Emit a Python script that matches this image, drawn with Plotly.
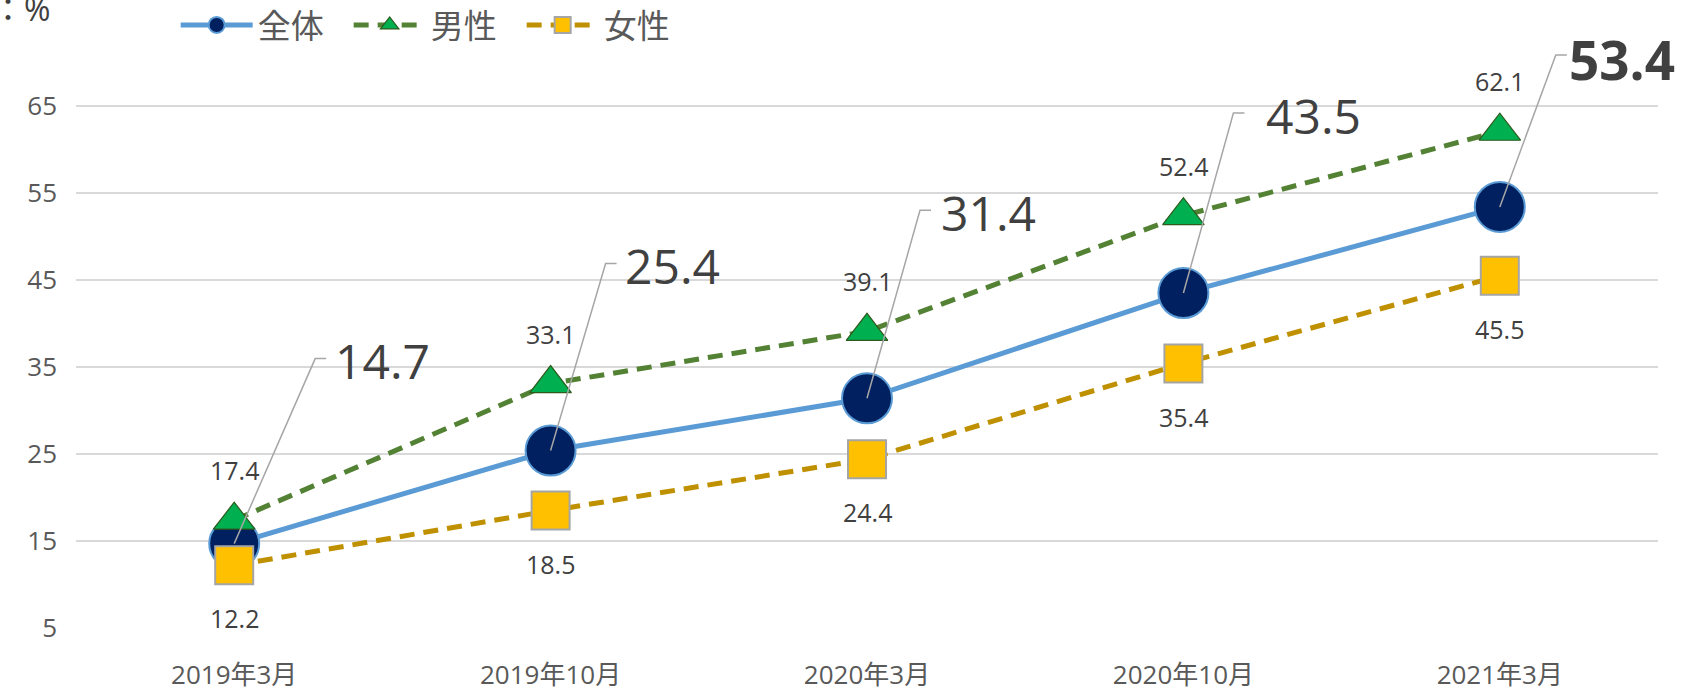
import plotly.graph_objects as go

categories = ["2019年3月", "2019年10月", "2020年3月", "2020年10月", "2021年3月"]
total = [14.7, 25.4, 31.4, 43.5, 53.4]
male = [17.4, 33.1, 39.1, 52.4, 62.1]
female = [12.2, 18.5, 24.4, 35.4, 45.5]
series_names = ["全体", "男性", "女性"]
y_ticks = [5, 15, 25, 35, 45, 55, 65]
unit_label = "：%"

# leader-line elbow offsets (pixels) and label gaps for the 全体 labels
leader_dx = [81, 55, 53, 50, 56]
leader_dy = [185, 187, 188, 180, 152]
label_gap = [18, 17, 19, 31, 11]

FONT = "Open Sans, Noto Sans CJK JP, sans-serif"
xs = list(range(len(categories)))

# plot area spans the full height above the x axis so that labels / leaders are not clipped
W, H = 1685, 691
M_L, M_R, M_B = 76, 27, 63
GRID_TOP_PX = 106            # pixel row of the top gridline (65)
plot_h = H - M_B
px_per_unit = (plot_h - GRID_TOP_PX) / (y_ticks[-1] - y_ticks[0])
y_max = y_ticks[-1] + GRID_TOP_PX / px_per_unit

fig = go.Figure()
fig.add_trace(go.Scatter(
    x=xs, y=total, name=series_names[0], mode="lines+markers",
    line=dict(color="#5B9BD5", width=5),
    marker=dict(symbol="circle", size=50, color="#002060", line=dict(color="#5B9BD5", width=2)),
    cliponaxis=False,
))
fig.add_trace(go.Scatter(
    x=xs, y=male, name=series_names[1], mode="lines+markers",
    line=dict(color="#548235", width=5, dash="15px,9px"),
    marker=dict(symbol="triangle-up", size=36, color="#00B050", line=dict(color="#2E5A1C", width=1.2)),
    cliponaxis=False,
))
fig.add_trace(go.Scatter(
    x=xs, y=female, name=series_names[2], mode="lines+markers",
    line=dict(color="#BF9000", width=5, dash="15px,9px"),
    marker=dict(symbol="square", size=38, color="#FFC000", line=dict(color="#A5A5A5", width=2)),
    cliponaxis=False,
))

annotations = []
shapes = []
for i, (m, f) in enumerate(zip(male, female)):
    annotations.append(dict(x=i, y=m, xref="x", yref="y", text=f"{m:.1f}", showarrow=False,
                            yshift=50, font=dict(family=FONT, size=25, color="#404040")))
    annotations.append(dict(x=i, y=f, xref="x", yref="y", text=f"{f:.1f}", showarrow=False,
                            yshift=-53, font=dict(family=FONT, size=25, color="#404040")))

for i, t in enumerate(total):
    dx, dy = leader_dx[i], leader_dy[i]
    shapes.append(dict(type="path", xref="x", yref="y", xsizemode="pixel", ysizemode="pixel",
                       xanchor=i, yanchor=t,
                       path=f"M0,0 L{dx},{dy} L{dx + 11},{dy}",
                       line=dict(color="#A6A6A6", width=1.5), layer="above"))
    last = i == len(total) - 1
    txt = f"<b>{t:.1f}</b>" if last else f"{t:.1f}"
    annotations.append(dict(x=i, y=t, xref="x", yref="y", text=txt, showarrow=False,
                            xanchor="left", yanchor="middle",
                            xshift=dx + label_gap[i], yshift=dy - (2 if not last else 5),
                            font=dict(family=FONT, size=48 if not last else 53, color="#404040")))

annotations.append(dict(x=0, y=1, xref="paper", yref="paper", xanchor="left", yanchor="middle",
                        text=unit_label, showarrow=False, xshift=-M_L - 10, yshift=-8,
                        font=dict(family=FONT, size=32, color="#404040")))

fig.update_layout(
    width=W, height=H,
    margin=dict(l=M_L, r=M_R, t=0, b=M_B, autoexpand=False),
    paper_bgcolor="white", plot_bgcolor="white",
    font=dict(family=FONT, color="#595959"),
    showlegend=True,
    legend=dict(orientation="h", x=0.063, y=1 - 25 / H, yref="container", xanchor="left", yanchor="middle",
                font=dict(family=FONT, size=33, color="#595959"), itemwidth=72, entrywidth=86,
                bgcolor="rgba(0,0,0,0)", traceorder="normal"),
    xaxis=dict(range=[-0.5, len(categories) - 0.5], tickvals=xs, ticktext=categories,
               showgrid=False, zeroline=False, showline=False, ticks="", ticklabelstandoff=29,
               tickfont=dict(family=FONT, size=26, color="#595959")),
    yaxis=dict(range=[y_ticks[0], y_max], tickvals=y_ticks, showgrid=True, gridcolor="#D9D9D9", gridwidth=1.5,
               zeroline=False, showline=False, ticks="", ticklabelstandoff=18,
               tickfont=dict(family=FONT, size=26, color="#595959")),
    annotations=annotations, shapes=shapes,
)

fig.write_html("out.html", config={"displayModeBar": False},
               post_script="document.body.style.margin='0';document.body.style.padding='0';")
